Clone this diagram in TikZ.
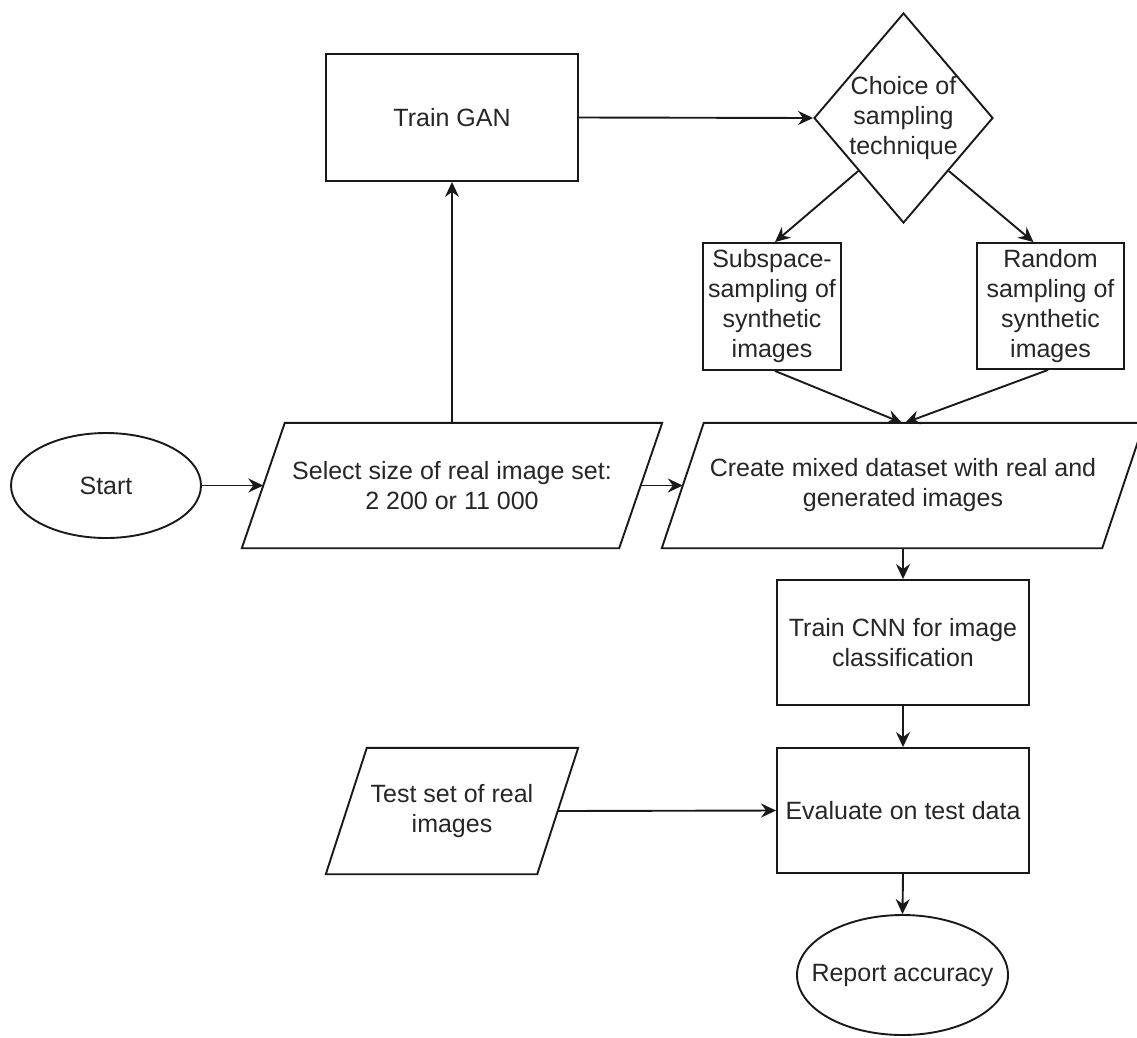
\documentclass[tikz,border=0pt]{standalone}
\usepackage{fontspec}
\setmainfont{Liberation Sans}
\usetikzlibrary{shapes.geometric,arrows.meta,calc}
\begin{document}
\begin{tikzpicture}[x=1pt,y=-1pt,
  every node/.style={font=\fontsize{25}{30}\selectfont, align=center, inner sep=0pt, text=black!85},
  shp/.style={draw=black!90, line width=1.9pt},
  rect/.style={shp, rectangle},
  ell/.style={shp, ellipse},
  dia/.style={shp, diamond},
  para/.style={rectangle},
  outline/.style={draw=black!90, line width=1.9pt, line join=miter},
  conn/.style={draw=black!90, line width=1.9pt, -{Stealth[length=15pt,width=14pt,inset=5pt]}}
]
\useasboundingbox (0,0) rectangle (1137,1037);

% nodes
\node[rect, minimum width=252pt, minimum height=127pt] (gan) at (452,117.5) {Train GAN};
\node[dia, minimum width=179pt, minimum height=210pt,
      label={center:Choice of\\sampling\\technique}] (choice) at (903.5,118) {};
\node[rect, minimum width=138pt, minimum height=127pt] (sub) at (772,306.5)
  {Subspace-\\sampling of\\synthetic\\images};
\node[rect, minimum width=147pt, minimum height=126pt] (rnd) at (1050.5,306)
  {Random\\sampling of\\synthetic\\images};
\node[ell, minimum width=190pt, minimum height=105pt, label={center:Start}] (start) at (106,485.5) {};
\node[para, minimum width=420pt, minimum height=125pt] (sel) at (452,485.5)
  {Select size of real image set:\\2 200 or 11 000};
\node[para, minimum width=482pt, minimum height=125pt] (cre) at (903,485.5)
  {Create mixed dataset with real and\\generated images};
\node[rect, minimum width=252pt, minimum height=125pt] (cnn) at (903,642.5)
  {Train CNN for image\\classification};
\node[rect, minimum width=252pt, minimum height=125pt] (eval) at (903,810.5)
  {Evaluate on test data};
\node[para, minimum width=252pt, minimum height=126pt] (test) at (452,811)
  {Test set of real\\images};
\node[ell, minimum width=211pt, minimum height=120pt, label={center:Report accuracy}] (rep) at (902.5,975) {};

% parallelogram outlines
\draw[outline] (sel.south west) -- ($(sel.north west)+(43,0)$) -- (sel.north east)
  -- ($(sel.south east)+(-43,0)$) -- cycle;
\draw[outline] (cre.south west) -- ($(cre.north west)+(42,0)$) -- (cre.north east)
  -- ($(cre.south east)+(-42,0)$) -- cycle;
\draw[outline] (test.south west) -- ($(test.north west)+(41,0)$) -- (test.north east)
  -- ($(test.south east)+(-41,0)$) -- cycle;

% connectors
\draw[conn] (start.east) -- ($(sel.west)+(21.5,0)$);
\draw[conn] (sel.north) -- (gan.south);
\draw[conn] (gan.east) -- (choice.west);
\draw[conn] ($(choice.west)!0.5!(choice.south)$) -- ($(sub.north)+(3,0)$);
\draw[conn] ($(choice.east)!0.5!(choice.south)$) -- ($(rnd.north)+(-17,0)$);
\draw[conn] ($(sub.south)+(3,0)$) -- ($(cre.north)+(-1,0)$);
\draw[conn] ($(rnd.south)+(-2.5,0)$) -- ($(cre.north)+(2,0)$);
\draw[conn] ($(sel.east)+(-21.5,0)$) -- ($(cre.west)+(21,0)$);
\draw[conn] (cre.south) -- (cnn.north);
\draw[conn] (cnn.south) -- (eval.north);
\draw[conn] ($(test.east)+(-20.5,0)$) -- (eval.west);
\draw[conn] (eval.south) -- (rep.north);
\end{tikzpicture}
\end{document}
